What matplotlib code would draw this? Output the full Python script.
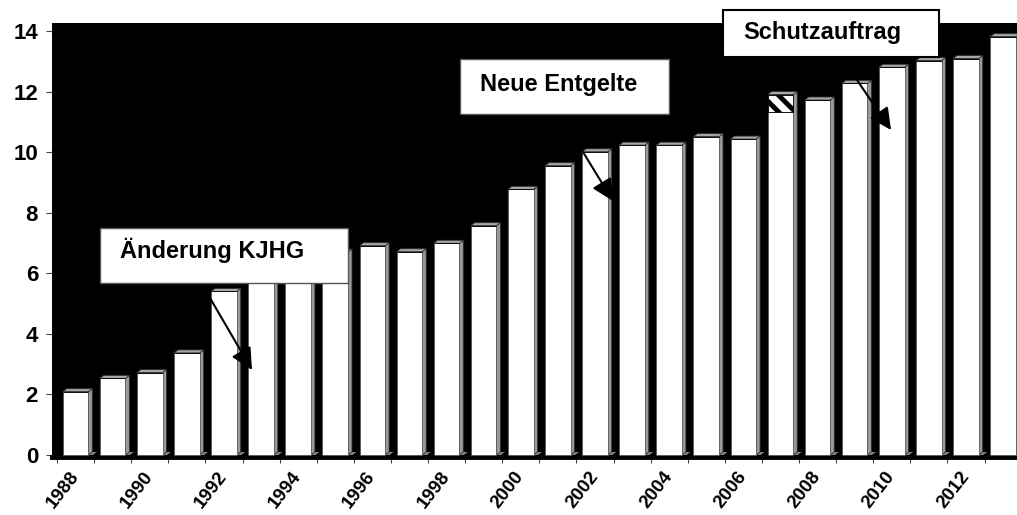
import matplotlib
matplotlib.use("Agg")
import matplotlib.pyplot as plt
from matplotlib.patches import Polygon, Rectangle

plt.rcParams['font.family'] = ['Liberation Sans', 'DejaVu Sans']
plt.rcParams['hatch.linewidth'] = 3.5

# ---- data ----
years = list(range(1988, 2014))
values = [2.09, 2.53, 2.72, 3.37, 5.40, 6.0, 6.3, 6.7, 6.91, 6.71, 6.99, 7.57, 8.77,
          9.55, 10.01, 10.23, 10.23, 10.51, 10.43, 11.33, 11.72, 12.27, 12.80, 13.02,
          13.09, 13.81]
extra = [0] * 19 + [0.57] + [0] * 6          # hatched addition in 2007
yticks = [0, 2, 4, 6, 8, 10, 12, 14]
label_years = years[::2]

W, H = 1017, 515
fig = plt.figure(figsize=(W / 100, H / 100), dpi=100)
ax = fig.add_axes([52 / W, (H - 458) / H, (W - 52) / W, (458 - 23) / H])
ax.set_facecolor('black')

px_per_cat = 37.1
px_per_unit = 30.29
ax.set_xlim(-0.5 - 5 / px_per_cat, -0.5 - 5 / px_per_cat + (W - 52) / px_per_cat)
ax.set_ylim(-3 / px_per_unit, (455 - 23) / px_per_unit)

off = 5.7 / px_per_cat
bw = 25.6 / px_per_cat
dx = 4.0 / px_per_cat
dy = 3.0 / px_per_unit

xs = list(range(len(years)))
lefts = [x - 0.5 + off for x in xs]
ax.bar(lefts, values, width=bw, align='edge', color='white', edgecolor='#555555',
       linewidth=0.6, zorder=3)
ax.bar(lefts, extra, width=bw, bottom=values, align='edge', color='white',
       edgecolor='black', hatch='\\\\', linewidth=0.6, zorder=3)

for xl, v, e in zip(lefts, values, extra):
    tot = v + e
    xr = xl + bw
    side = Polygon([(xr, 0), (xr + dx, dy), (xr + dx, tot + dy), (xr, tot)],
                   closed=True, facecolor='#9a9a9a', edgecolor='#303030', linewidth=0.6, zorder=2)
    top = Polygon([(xl, tot), (xr, tot), (xr + dx, tot + dy), (xl + dx, tot + dy)],
                  closed=True, facecolor='#a8a8a8', edgecolor='#303030', linewidth=0.6, zorder=2)
    floor = Polygon([(xr, 0), (xr + dx, dy), (xr + dx + 0.12, dy), (xr + 0.12, 0)],
                    closed=True, facecolor='#888888', edgecolor='none', zorder=1)
    ax.add_patch(floor)
    ax.add_patch(side)
    ax.add_patch(top)

# axes styling
for s in ['top', 'right', 'left']:
    ax.spines[s].set_visible(False)
ax.spines['bottom'].set_linewidth(3.5)
ax.spines['bottom'].set_color('black')
ax.spines['bottom'].set_position(('data', -1.5 / px_per_unit))

ax.set_yticks(yticks)
ax.set_yticklabels([str(t) for t in yticks], fontsize=16, fontweight='bold')
ax.tick_params(axis='y', length=4, width=0.8, color='#444444', pad=6)

ax.set_xticks([years.index(y) for y in label_years])
ax.set_xticklabels([str(y) for y in label_years], fontsize=13.5, fontweight='bold',
                   rotation=52, ha='right', va='center', rotation_mode='anchor')
ax.set_xticks([x - 0.5 for x in xs], minor=True)
ax.tick_params(axis='x', which='major', length=0, pad=12)
ax.tick_params(axis='x', which='minor', length=4, width=0.8, color='#444444')

# ---- annotation boxes (figure pixel layout) ----
def box(x0, y0, x1, y1, text, tx, ty, lw, ec):
    r = Rectangle((x0 / W, 1 - y1 / H), (x1 - x0) / W, (y1 - y0) / H,
                  transform=fig.transFigure, facecolor='white', edgecolor=ec,
                  linewidth=lw, zorder=10)
    fig.patches.append(r)
    fig.text(tx / W, 1 - ty / H, text, fontsize=17, fontweight='bold',
             ha='left', va='center', zorder=11)

box(100, 228, 348, 283, 'Änderung KJHG', 120, 250, 1.0, '#555555')
box(460, 59, 669, 114, 'Neue Entgelte', 480, 84, 1.0, '#555555')
box(723, 10, 939, 57, 'Schutzauftrag', 743, 33, 1.5, 'black')

def px2data(px, py):
    x0 = -0.5 - 5 / px_per_cat
    return (x0 + (px - 52) / px_per_cat, (455 - py) / px_per_unit)

arrows = [((210, 298), (252, 370)), ((583, 152), (613, 201)), ((857, 80), (891, 130))]
for (s, e) in arrows:
    ax.annotate('', xy=px2data(*e), xytext=px2data(*s),
                arrowprops=dict(arrowstyle='-|>,head_length=0.6,head_width=0.3',
                                color='black', lw=1.5,
                                mutation_scale=22, shrinkA=0, shrinkB=0),
                zorder=12)

fig.savefig('out.png', dpi=100)
